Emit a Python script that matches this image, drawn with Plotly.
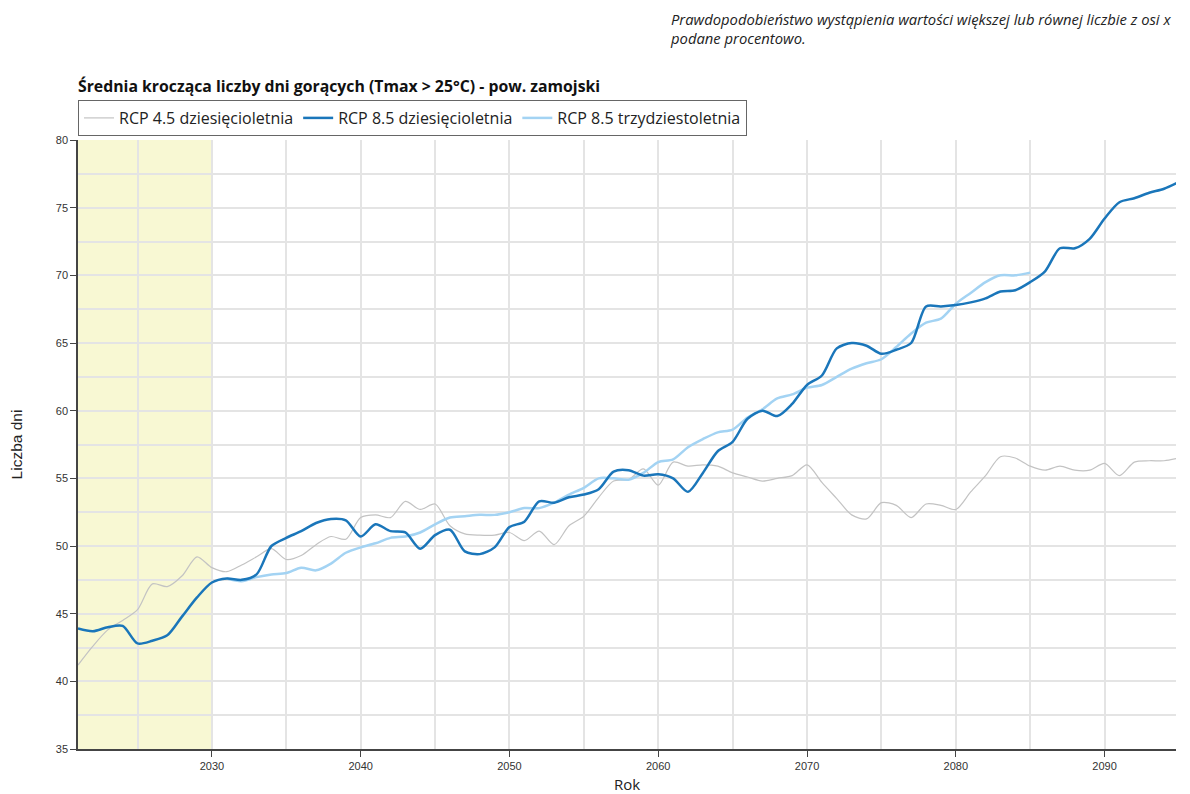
import plotly.graph_objects as go

years_1 = list(range(2021, 2096))
rcp45_10 = [41.2, 42.6, 43.8, 44.5, 45.3, 47.2, 47.0, 47.8, 49.2, 48.4,
            48.1, 48.6, 49.2, 49.8, 49.0, 49.3, 50.1, 50.7, 50.5, 52.1,
            52.3, 52.1, 53.3, 52.7, 53.1, 51.5, 50.9, 50.8, 50.8, 51.0,
            50.4, 51.1, 50.1, 51.5, 52.2, 53.6, 54.8, 54.9, 55.7, 54.5,
            56.2, 55.9, 56.0, 55.9, 55.4, 55.1, 54.8, 55.0, 55.2, 56.0,
            54.7, 53.5, 52.3, 52.0, 53.2, 53.0, 52.1, 53.1, 53.0, 52.7,
            54.0, 55.2, 56.6, 56.5, 55.9, 55.6, 55.9, 55.6, 55.6, 56.1,
            55.2, 56.2, 56.3, 56.3, 56.5]
rcp85_10 = [43.9, 43.7, 44.0, 44.1, 42.8, 43.0, 43.4, 44.8, 46.2, 47.3,
            47.6, 47.5, 47.9, 50.0, 50.6, 51.1, 51.7, 52.0, 51.9, 50.7,
            51.6, 51.1, 51.0, 49.8, 50.8, 51.2, 49.6, 49.4, 49.9, 51.4,
            51.8, 53.3, 53.2, 53.6, 53.8, 54.2, 55.5, 55.6, 55.2, 55.3,
            55.0, 54.0, 55.4, 57.0, 57.7, 59.4, 60.0, 59.6, 60.5, 61.9,
            62.6, 64.6, 65.0, 64.8, 64.2, 64.5, 65.0, 67.7, 67.7, 67.8,
            68.0, 68.3, 68.8, 68.9, 69.5, 70.3, 72.0, 72.0, 72.7, 74.2,
            75.4, 75.7, 76.1, 76.4, 76.9]

years_30 = list(range(2031, 2086))
rcp85_30 = [47.6, 47.4, 47.7, 47.9, 48.0, 48.4, 48.2, 48.7, 49.5, 49.9,
            50.2, 50.6, 50.7, 51.0, 51.6, 52.1, 52.2, 52.3, 52.3, 52.5,
            52.8, 52.8, 53.2, 53.8, 54.3, 55.0, 55.0, 54.9, 55.4, 56.2,
            56.4, 57.3, 57.9, 58.4, 58.6, 59.5, 60.1, 60.9, 61.2, 61.7,
            61.9, 62.5, 63.1, 63.5, 63.8, 64.7, 65.7, 66.5, 66.8, 67.9,
            68.7, 69.5, 70.0, 70.0, 70.2]

names = ["RCP 4.5 dziesięcioletnia", "RCP 8.5 dziesięcioletnia", "RCP 8.5 trzydziestoletnia"]
colors = ["#c3c3c3", "#1a76ba", "#a3d3f3"]
widths = [1.2, 2.5, 2.5]

W, H = 1190, 794
L, R, T, B = 70, 22, 132, 53
PH = H - T - B

fig = go.Figure()
fig.add_trace(go.Scatter(x=years_1, y=rcp45_10, name=names[0], mode="lines",
                         line=dict(color=colors[0], width=widths[0], shape="spline", smoothing=0.8)))
fig.add_trace(go.Scatter(x=years_30, y=rcp85_30, name=names[2], mode="lines", showlegend=False,
                         line=dict(color=colors[2], width=widths[2], shape="spline", smoothing=0.8)))
fig.add_trace(go.Scatter(x=years_1, y=rcp85_10, name=names[1], mode="lines",
                         line=dict(color=colors[1], width=widths[1], shape="spline", smoothing=0.8)))
fig.add_trace(go.Scatter(x=[None], y=[None], name=names[2], mode="lines",
                         line=dict(color=colors[2], width=widths[2])))

fig.add_shape(type="rect", xref="x", yref="paper", x0=2021, x1=2030, y0=0, y1=1,
              fillcolor="#f8f8d3", line=dict(width=0), layer="below")

fig.update_layout(
    width=W, height=H,
    margin=dict(l=L, r=R, t=T, b=B),
    paper_bgcolor="white", plot_bgcolor="white",
    font=dict(family="Open Sans, Arial, sans-serif", color="#222"),
    title=dict(text="<b>Średnia krocząca liczby dni gorących (Tmax > 25°C) - pow. zamojski</b>",
               x=L/W, xanchor="left", y=1-78/H, yanchor="middle",
               font=dict(size=15.8, color="#111")),
    legend=dict(orientation="h", x=0, xanchor="left", y=1+(T-92)/PH, yanchor="top",
                bordercolor="#666", borderwidth=1, font=dict(size=16, color="#222"),
                traceorder="normal", itemwidth=30, tracegroupgap=0),
    showlegend=True,
    annotations=[dict(text="<i>Prawdopodobieństwo wystąpienia wartości większej lub równej liczbie z osi x<br>podane procentowo.</i>",
                      xref="paper", yref="paper", x=(660-L)/(W-L-R), xanchor="left",
                      y=1+(T+1)/PH, yanchor="top", align="left", showarrow=False,
                      font=dict(size=14.8, color="#222"))],
)

fig.update_xaxes(range=[2021, 2094.8], dtick=10, tick0=2030, showgrid=True, gridcolor="#e4e4e4", gridwidth=1.5,
                 minor=dict(dtick=5, tick0=2025, showgrid=True, gridcolor="#e4e4e4", gridwidth=1.5),
                 showline=True, linecolor="#444", linewidth=1.5, ticks="outside", ticklen=6, tickcolor="#444",
                 tickfont=dict(size=11, color="#333", family="Arial"), zeroline=False, automargin=False,
                 title=dict(text="Rok", font=dict(size=15, color="#222"), standoff=9))
fig.update_yaxes(range=[35, 80], dtick=5, showgrid=True, gridcolor="#e4e4e4", gridwidth=1.5,
                 minor=dict(dtick=2.5, showgrid=True, gridcolor="#e4e4e4", gridwidth=1.5),
                 showline=True, linecolor="#444", linewidth=1.5, ticks="outside", ticklen=6, tickcolor="#444",
                 tickfont=dict(size=11, color="#333", family="Arial"), zeroline=False, automargin=False,
                 title=dict(text="Liczba dni", font=dict(size=15.5, color="#222", family="Arial"), standoff=30))

fig.write_html("out.html")
